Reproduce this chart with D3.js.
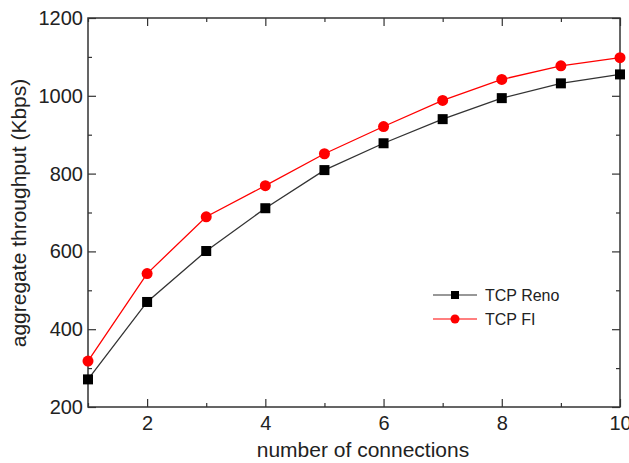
<!DOCTYPE html>
<html>
<head>
<meta charset="utf-8">
<script src="https://cdn.jsdelivr.net/npm/d3@7"></script>
<style>
  body { margin: 0; background: #fff; }
  text { font-family: "Liberation Sans", Arial, sans-serif; fill: #222; }
</style>
</head>
<body>
<div id="chart"></div>
<script>
// datos
const connections = [1, 2, 3, 4, 5, 6, 7, 8, 9, 10]
const renoValues = [271, 470, 601, 711, 809, 878, 940, 994, 1032, 1055]
const fiValues = [318, 543, 689, 769, 851, 921, 988, 1042, 1077, 1098]
const xTicks = [2, 4, 6, 8, 10]
const xMinorTicks = [1, 3, 5, 7, 9]
const yTicks = [200, 400, 600, 800, 1000, 1200]
const yMinorTicks = [300, 500, 700, 900, 1100]
const seriesNames = ["TCP Reno", "TCP FI"]

const width = 629
const height = 463
const margin = { top: 18, right: 9, bottom: 56, left: 88 }
const innerW = width - margin.left - margin.right
const innerH = height - margin.top - margin.bottom

const svg = d3.select("div#chart")
    .append("svg")
    .attr("width", width)
    .attr("height", height)

const g = svg.append("g")
    .attr("transform", `translate(${margin.left},${margin.top})`)

// escalas
const x = d3.scaleLinear().domain([1, 10]).range([0, innerW])
const y = d3.scaleLinear().domain([200, 1200]).range([innerH, 0])

const axisColor = "#333"

// ejes (ticks hacia dentro)
function styleAxis(sel) {
    sel.select(".domain").remove()
    sel.selectAll("line").attr("stroke", axisColor).attr("stroke-width", 1.2)
    sel.selectAll("text").style("font-size", "20px").attr("fill", "#222")
}

g.append("g")
    .attr("transform", `translate(0,${innerH})`)
    .call(d3.axisBottom(x).tickValues(xTicks).tickSize(-8).tickPadding(9).tickFormat(d3.format("d")))
    .call(styleAxis)
g.append("g")
    .attr("transform", `translate(0,${innerH})`)
    .call(d3.axisBottom(x).tickValues(xMinorTicks).tickSize(-4).tickFormat(""))
    .call(styleAxis)

g.append("g")
    .call(d3.axisLeft(y).tickValues(yTicks).tickSize(-8).tickPadding(5).tickFormat(d3.format("d")))
    .call(styleAxis)
g.append("g")
    .call(d3.axisLeft(y).tickValues(yMinorTicks).tickSize(-4).tickFormat(""))
    .call(styleAxis)

// ejes espejo arriba y derecha
g.append("g")
    .call(d3.axisTop(x).tickValues(xTicks).tickSize(-8).tickFormat(""))
    .call(styleAxis)
g.append("g")
    .call(d3.axisTop(x).tickValues(xMinorTicks).tickSize(-4).tickFormat(""))
    .call(styleAxis)
g.append("g")
    .attr("transform", `translate(${innerW},0)`)
    .call(d3.axisRight(y).tickValues(yTicks).tickSize(-8).tickFormat(""))
    .call(styleAxis)
g.append("g")
    .attr("transform", `translate(${innerW},0)`)
    .call(d3.axisRight(y).tickValues(yMinorTicks).tickSize(-4).tickFormat(""))
    .call(styleAxis)

// marco
g.append("rect")
    .attr("width", innerW)
    .attr("height", innerH)
    .attr("fill", "none")
    .attr("stroke", axisColor)
    .attr("stroke-width", 1.5)

// etiquetas de ejes
svg.append("text")
    .attr("x", 363)
    .attr("y", 457)
    .attr("text-anchor", "middle")
    .style("font-size", "21px")
    .text("number of connections")

svg.append("text")
    .attr("transform", "translate(26,213) rotate(-90)")
    .attr("text-anchor", "middle")
    .style("font-size", "21px")
    .text("aggregate throughput (Kbps)")

// series
const line = d3.line().x((d, i) => x(connections[i])).y(d => y(d))

g.append("path")
    .datum(renoValues)
    .attr("d", line)
    .attr("fill", "none")
    .attr("stroke", "#333")
    .attr("stroke-width", 1.3)

g.append("path")
    .datum(fiValues)
    .attr("d", line)
    .attr("fill", "none")
    .attr("stroke", "#f00")
    .attr("stroke-width", 1.3)

g.selectAll("rect.reno")
    .data(renoValues)
    .enter()
    .append("rect")
    .attr("class", "reno")
    .attr("x", (d, i) => x(connections[i]) - 5)
    .attr("y", d => y(d) - 5)
    .attr("width", 10)
    .attr("height", 10)
    .attr("fill", "#000")

g.selectAll("circle.fi")
    .data(fiValues)
    .enter()
    .append("circle")
    .attr("class", "fi")
    .attr("cx", (d, i) => x(connections[i]))
    .attr("cy", d => y(d))
    .attr("r", 5.5)
    .attr("fill", "#f00")

// leyenda
const legend = svg.append("g").attr("transform", "translate(433,295)")
legend.append("line").attr("x1", 0).attr("x2", 44).attr("y1", 0).attr("y2", 0)
    .attr("stroke", "#333").attr("stroke-width", 1.2)
legend.append("rect").attr("x", 18).attr("y", -4).attr("width", 8).attr("height", 8).attr("fill", "#000")
legend.append("text").attr("x", 52).attr("y", 6).style("font-size", "16px").text(seriesNames[0])

legend.append("line").attr("x1", 0).attr("x2", 44).attr("y1", 24).attr("y2", 24)
    .attr("stroke", "#f00").attr("stroke-width", 1.2)
legend.append("circle").attr("cx", 22).attr("cy", 24).attr("r", 4.5).attr("fill", "#f00")
legend.append("text").attr("x", 52).attr("y", 30).style("font-size", "16px").text(seriesNames[1])
</script>
</body>
</html>
